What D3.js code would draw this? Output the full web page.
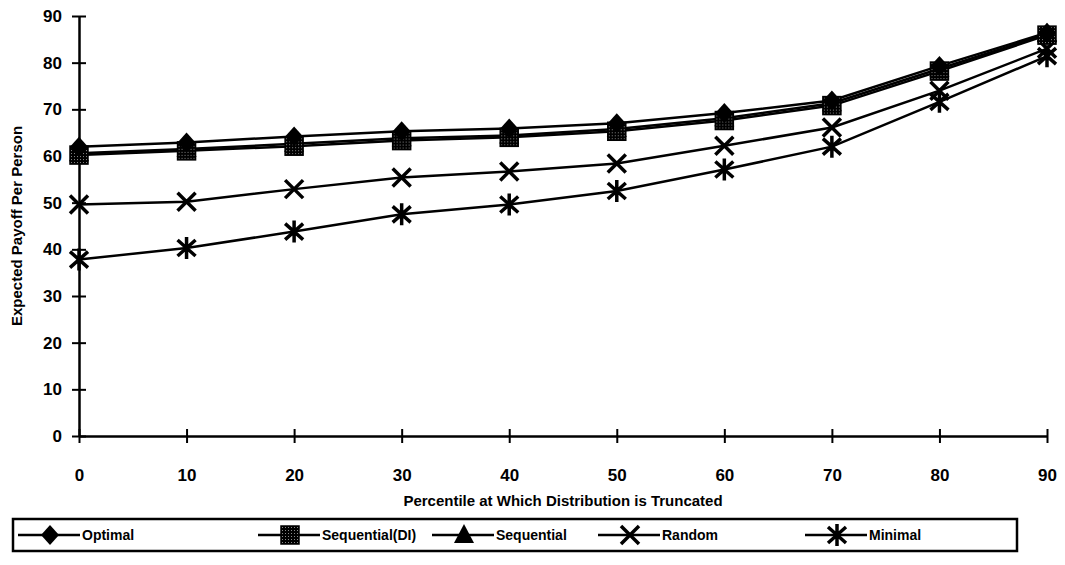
<!DOCTYPE html>
<html>
<head>
<meta charset="utf-8">
<script src="https://cdn.jsdelivr.net/npm/d3@7"></script>
<style>
  body { margin: 0; background: #fff; }
  text { font-family: "Liberation Sans", Arial, sans-serif; font-weight: bold; fill: #000; }
</style>
</head>
<body>
<div id="chart"></div>
<script>
// data
var percentiles = [0, 10, 20, 30, 40, 50, 60, 70, 80, 90];
var optimal      = [62.0, 62.9, 64.2, 65.3, 65.9, 67.0, 69.2, 71.9, 79.3, 86.4];
var sequentialDI = [60.2, 61.1, 62.1, 63.3, 64.0, 65.3, 67.6, 70.8, 78.2, 85.9];
var sequential   = [60.6, 61.5, 62.6, 63.8, 64.4, 65.8, 68.1, 71.3, 78.7, 86.1];
var random       = [49.6, 50.2, 52.9, 55.4, 56.7, 58.4, 62.2, 66.1, 74.0, 83.0];
var minimal      = [37.8, 40.3, 43.8, 47.5, 49.6, 52.5, 57.1, 62.0, 71.6, 81.4];
var yTicks = [0, 10, 20, 30, 40, 50, 60, 70, 80, 90];

var seriesNames = ["Optimal", "Sequential(DI)", "Sequential", "Random", "Minimal"];
var seriesVals = [optimal, sequentialDI, sequential, random, minimal];
var seriesShapes = ["diamond", "square", "triangle", "x", "star"];

var width = 1065, height = 565;
var svg = d3.select("#chart").append("svg")
    .attr("width", width).attr("height", height);

// pattern for the dotted square
var defs = svg.append("defs");
var pat = defs.append("pattern").attr("id", "dots")
    .attr("width", 3).attr("height", 3).attr("patternUnits", "userSpaceOnUse");
pat.append("rect").attr("width", 3).attr("height", 3).attr("fill", "#000");
pat.append("rect").attr("x", 1).attr("y", 1).attr("width", 1).attr("height", 1).attr("fill", "#888");

var x = d3.scaleLinear().domain([0, 90]).range([79, 1047]);
var y = d3.scaleLinear().domain([0, 90]).range([436, 16]);

// axes
var xAxis = d3.axisBottom(x).tickValues(percentiles).tickSizeInner(7).tickSizeOuter(0).tickPadding(0);
var yAxis = d3.axisLeft(y).tickValues(yTicks).tickSizeInner(7).tickSizeOuter(0).tickPadding(10);

var gx = svg.append("g").attr("transform", "translate(0," + y(0) + ")").call(xAxis);
gx.select(".domain").attr("stroke-width", 2.5);
gx.selectAll(".tick line").attr("y1", -7).attr("y2", 7).attr("stroke-width", 2);
gx.selectAll(".tick text").attr("y", 33).attr("font-size", 17).attr("dy", "0.71em")
    .style("font-family", "Liberation Sans, Arial").style("font-weight", "bold")
    .attr("transform", function() { return null; });

var gy = svg.append("g").attr("transform", "translate(" + x(0) + ",0)").call(yAxis);
gy.select(".domain").attr("stroke-width", 2.5);
gy.selectAll(".tick line").attr("x1", -7).attr("x2", 7).attr("stroke-width", 2);
gy.selectAll(".tick text").attr("font-size", 17)
    .style("font-family", "Liberation Sans, Arial").style("font-weight", "bold");

svg.append("text")
    .attr("x", (x(0) + x(90)) / 2).attr("y", 506)
    .attr("text-anchor", "middle").attr("font-size", 15)
    .text("Percentile at Which Distribution is Truncated");

svg.append("text")
    .attr("transform", "translate(22," + y(45) + ") rotate(-90)")
    .attr("text-anchor", "middle").attr("font-size", 15)
    .text("Expected Payoff Per Person");

// marker drawing
function marker(g, shape, cx, cy) {
    var m = g.append("g").attr("transform", "translate(" + cx + "," + cy + ")");
    if (shape === "diamond") {
        m.append("path").attr("d", "M0,-10L9,0L0,10L-9,0Z").attr("fill", "#000");
    } else if (shape === "square") {
        m.append("rect").attr("x", -9).attr("y", -9).attr("width", 18).attr("height", 18)
            .attr("fill", "url(#dots)").attr("stroke", "#000").attr("stroke-width", 1.5);
    } else if (shape === "triangle") {
        m.append("path").attr("d", "M0,-11L10,8L-10,8Z").attr("fill", "#000");
    } else if (shape === "x") {
        m.append("path").attr("d", "M-9,-9L9,9M-9,9L9,-9")
            .attr("stroke", "#000").attr("stroke-width", 3.5).attr("fill", "none");
    } else if (shape === "star") {
        m.append("path").attr("d", "M-9,-8L9,8M-9,8L9,-8M0,-11L0,11")
            .attr("stroke", "#000").attr("stroke-width", 3.5).attr("fill", "none");
    }
}

var line = d3.line().x(function(d, i) { return x(percentiles[i]); }).y(function(d) { return y(d); });

var plot = svg.append("g");
// draw bottom series first so the top lines sit on top
for (var s = seriesVals.length - 1; s >= 0; s--) {
    plot.append("path").datum(seriesVals[s])
        .attr("d", line).attr("fill", "none").attr("stroke", "#000").attr("stroke-width", 2.5);
}
for (var s2 = seriesVals.length - 1; s2 >= 0; s2--) {
    seriesVals[s2].forEach(function(v, i) {
        marker(plot, seriesShapes[s2], x(percentiles[i]), y(v));
    });
}

// legend
var legend = svg.append("g");
legend.append("rect").attr("x", 13).attr("y", 519).attr("width", 1004).attr("height", 32)
    .attr("fill", "none").attr("stroke", "#000").attr("stroke-width", 2.5);
var legX = [18, 258, 432, 598, 805];
seriesNames.forEach(function(name, i) {
    var lx = legX[i];
    legend.append("line").attr("x1", lx).attr("x2", lx + 62).attr("y1", 535).attr("y2", 535)
        .attr("stroke", "#000").attr("stroke-width", 2.5);
    marker(legend, seriesShapes[i], lx + 32, 535);
    legend.append("text").attr("x", lx + 64).attr("y", 540).attr("font-size", 14).text(name);
});
</script>
</body>
</html>
